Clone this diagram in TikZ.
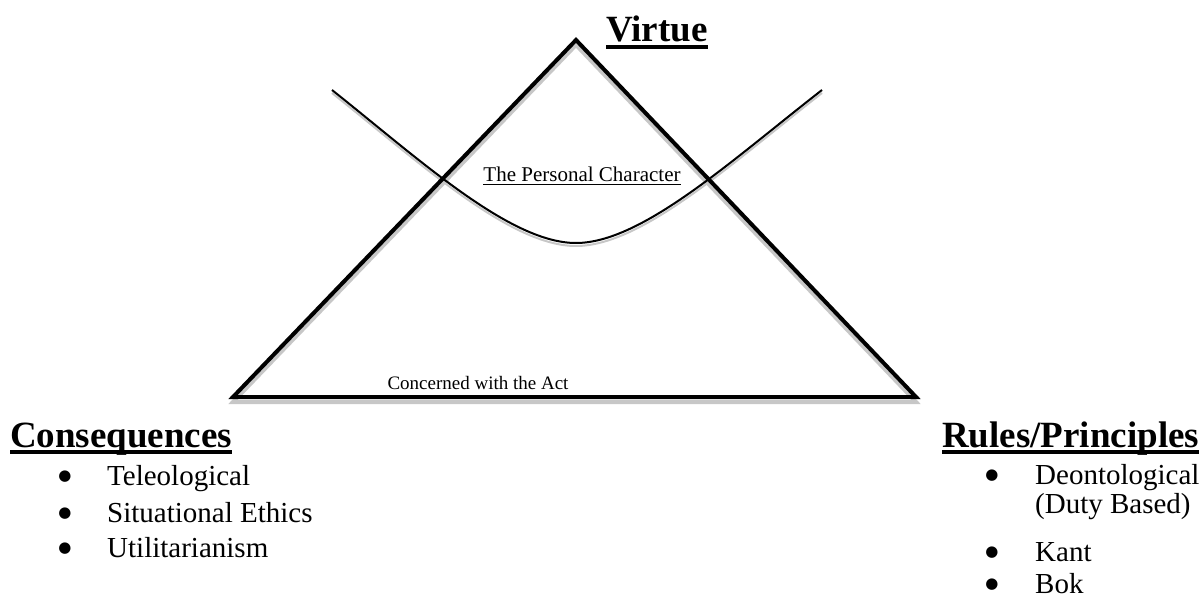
\documentclass[tikz,border=0pt]{standalone}
\usepackage{fontspec}
\setmainfont{Liberation Serif}
\newfontfamily\dotfont{DejaVu Sans}
\usetikzlibrary{positioning}

\begin{document}
\begin{tikzpicture}[x=1pt, y=-1pt,
  every node/.style={inner sep=0pt},
  heading/.style={anchor=base west, font=\fontsize{37}{44}\selectfont\bfseries},
  item/.style={anchor=base west, font=\fontsize{29}{34}\selectfont},
  bullet/.style={anchor=center, yshift=8pt, font=\dotfont\fontsize{15}{18}\selectfont},
  sideline/.style={line width=4pt, line join=miter},
  curveline/.style={line width=2pt},
  shade/.style={black!22},
  underbar/.style={line width=4pt},
  thinbar/.style={line width=1.5pt}]
  \useasboundingbox (0,0) rectangle (1204,601);

  % triangle and curve, each with its grey shadow
  \draw[sideline, shade, yshift=-5pt] (576,40) -- (233,397) -- (916,397) -- cycle;
  \draw[curveline, shade, yshift=-3pt] (332,90) .. controls (420,160) and (510,243) .. (576,243)
    .. controls (642,243) and (732,160) .. (822,90);
  \draw[curveline] (332,90) .. controls (420,160) and (510,243) .. (576,243)
    .. controls (642,243) and (732,160) .. (822,90);
  \draw[sideline] (576,40) -- (233,397) -- (916,397) -- cycle;

  \node[heading] (virtue) at (606,42) {Virtue};
  \node[anchor=base, font=\fontsize{21}{25}\selectfont] (character) at (582,182) {The Personal Character};
  \node[anchor=base, font=\fontsize{19}{23}\selectfont] (act) at (478,389) {Concerned with the Act};

  \node[heading] (consequences) at (10,447) {Consequences};
  \node[heading] (rules) at (942,447) {Rules/Principles};

  % underlines
  \foreach \n in {virtue, consequences, rules}
    \draw[underbar] ([yshift=-5pt]\n.base west) -- ([yshift=-5pt]\n.base east);
  \draw[thinbar] ([yshift=-2.5pt]character.base west) -- ([yshift=-2.5pt]character.base east);

  \foreach \txt/\y [count=\i] in {Teleological/485, Situational Ethics/522, Utilitarianism/557} {
    \node[bullet] (cb\i) at (65,\y) {●};
    \node[item] (ct\i) at (107,\y) {\txt};
  }

  \foreach \txt/\y [count=\i] in {Deontological/484, Kant/561, Bok/593} {
    \node[bullet] (rb\i) at (992,\y) {●};
    \node[item] (rt\i) at (1035,\y) {\txt};
  }
  \node[item] (duty) at (1035,513) {(Duty Based)};
\end{tikzpicture}
\end{document}
